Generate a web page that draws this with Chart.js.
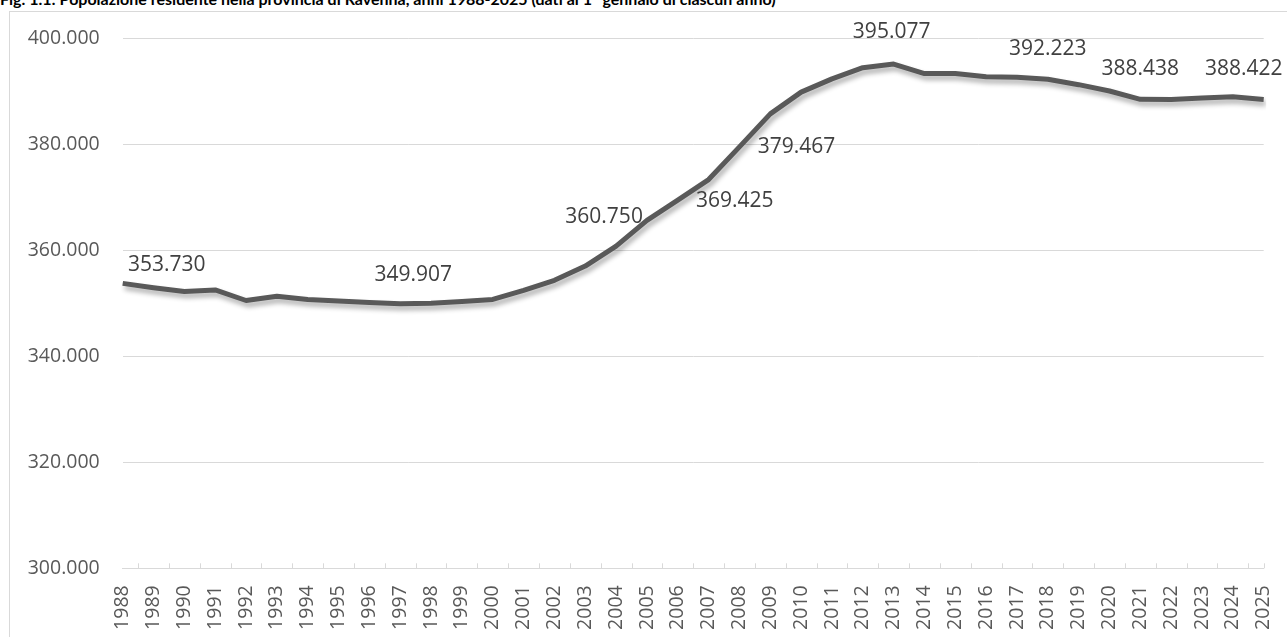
<!DOCTYPE html>
<html><head><meta charset="utf-8">
<script src="https://cdn.jsdelivr.net/npm/chart.js@4.4.1/dist/chart.umd.min.js"></script>
<style>
html,body{margin:0;padding:0;background:#fff;}
#wrap{position:relative;width:1287px;height:637px;overflow:hidden;background:#fff;}
#frame{position:absolute;left:9px;top:11px;width:1400px;height:700px;border-left:1px solid #d9d9d9;border-top:1px solid #d9d9d9;}
#title{position:absolute;left:0;top:-11px;font-family:Lato,"Open Sans",sans-serif;font-weight:bold;font-size:16px;line-height:19px;color:#000;white-space:nowrap;}
canvas{position:absolute;left:0;top:0;}
</style></head><body>
<div id="wrap"><div id="frame"></div><div id="title">Fig. 1.1: Popolazione residente nella provincia di Ravenna, anni 1988-2025 (dati al 1° gennaio di ciascun anno)</div><canvas id="c" width="1287" height="637"></canvas></div>
<script>
const years = ['1988','1989','1990','1991','1992','1993','1994','1995','1996','1997','1998','1999','2000','2001','2002','2003','2004','2005','2006','2007','2008','2009','2010','2011','2012','2013','2014','2015','2016','2017','2018','2019','2020','2021','2022','2023','2024','2025'];
const population = [353730,352900,352200,352500,350500,351300,350700,350400,350100,349907,350000,350300,350700,352400,354300,357000,360750,365600,369425,373300,379467,385700,389800,392300,394400,395077,393300,393300,392700,392600,392223,391200,390000,388438,388400,388700,388900,388422];
const labeledYears = ['1988','1997','2004','2006','2008','2013','2018','2021','2025'];
const yTickValues = [300000,320000,340000,360000,380000,400000];

function fmt(v){ return String(Math.round(v)).replace(/\B(?=(\d{3})+(?!\d))/g,'.'); }

const shadowPlugin = {
  id:'lineShadow',
  beforeDatasetDraw(chart){ const c=chart.ctx; c.save(); c.shadowColor='rgba(0,0,0,0.32)'; c.shadowBlur=5; c.shadowOffsetX=2; c.shadowOffsetY=4; },
  afterDatasetDraw(chart){ chart.ctx.restore(); }
};
const axisTicks = {
  id:'axisTicks',
  afterDraw(chart){
    const x = chart.scales.x, ctx = chart.ctx, yb = chart.chartArea.bottom;
    const n = x.ticks.length, pos = [];
    for(let i=0;i<n-1;i++) pos.push((x.getPixelForTick(i)+x.getPixelForTick(i+1))/2);
    pos.push(x.getPixelForTick(n-1));
    ctx.save(); ctx.strokeStyle='#d9d9d9'; ctx.lineWidth=1; ctx.beginPath();
    pos.forEach(p=>{ const px=Math.round(p)+0.5; ctx.moveTo(px,yb-5); ctx.lineTo(px,yb); });
    ctx.stroke(); ctx.restore();
  }
};
const valueLabels = {
  id:'valueLabels',
  afterDatasetsDraw(chart, args, opts){
    const meta = chart.getDatasetMeta(0), ctx = chart.ctx;
    ctx.save(); ctx.font = opts.font; ctx.fillStyle = opts.color; ctx.textAlign='center'; ctx.textBaseline='middle';
    labeledYears.forEach((yr,k)=>{
      const i = years.indexOf(yr), pt = meta.data[i], off = opts.offsets[k];
      ctx.fillText(fmt(population[i]), pt.x+off[0], pt.y+off[1]);
    });
    ctx.restore();
  }
};

new Chart(document.getElementById('c'), {
  type:'line',
  data:{ labels: years, datasets:[{ data: population, borderColor:'#595959', borderWidth:5, pointRadius:0, tension:0, borderJoinStyle:'round', fill:false }]},
  options:{
    responsive:false, animation:false, devicePixelRatio:1,
    layout:{ padding:{ top:38, right:23.3, left:0, bottom:0 } },
    plugins:{ legend:{display:false}, tooltip:{enabled:false},
      valueLabels:{ font:'21px "Open Sans"', color:'#404040',
        offsets:[[44,-18],[13,-29],[-12,-29],[57,1],[57,0],[-2,-32],[0,-30],[0,-30],[-20,-30]] } },
    scales:{
      x:{ offset:false,
        grid:{ display:true, drawOnChartArea:false, drawTicks:false },
        border:{ display:true, color:'#d9d9d9', width:1 },
        ticks:{ autoSkip:false, minRotation:90, maxRotation:90, padding:17, color:'#595959', font:{ family:'Open Sans', size:19.5 } },
        afterFit(s){ s.height = 68.7; s.paddingLeft = 0; s.paddingRight = 0; } },
      y:{ min:300000, max:400000,
        afterBuildTicks(s){ s.ticks = yTickValues.map(v=>({value:v})); },
        grid:{ color:'#d9d9d9', lineWidth:1, drawTicks:false },
        border:{ display:false },
        ticks:{ padding:23, color:'#595959', font:{ family:'Open Sans', size:19.5 }, callback:v=>fmt(v) },
        afterFit(s){ s.width = 122.7; s.paddingTop = 0; s.paddingBottom = 0; } }
    }
  },
  plugins:[shadowPlugin, axisTicks, valueLabels]
});
</script>
</body></html>
